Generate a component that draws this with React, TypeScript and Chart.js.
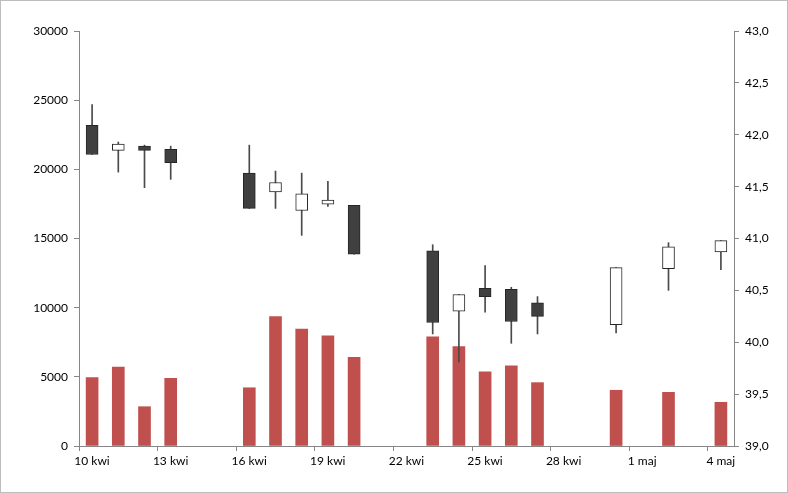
import React, { useEffect, useRef } from "react";
import { Chart, registerables } from "chart.js";

Chart.register(...registerables);

// Trading days (2007)
const dates = [
  "2007-04-10", "2007-04-11", "2007-04-12", "2007-04-13",
  "2007-04-16", "2007-04-17", "2007-04-18", "2007-04-19", "2007-04-20",
  "2007-04-23", "2007-04-24", "2007-04-25", "2007-04-26", "2007-04-27",
  "2007-04-30", "2007-05-02", "2007-05-04",
];
const openPrices = [42.09, 41.85, 41.89, 41.86, 41.63, 41.45, 41.27, 41.33, 41.32, 40.88, 40.30, 40.52, 40.51, 40.38, 40.17, 40.71, 40.87];
const closePrices = [41.81, 41.91, 41.85, 41.73, 41.29, 41.54, 41.43, 41.37, 40.85, 40.19, 40.46, 40.44, 40.20, 40.25, 40.72, 40.92, 40.98];
const highPrices = [42.29, 41.93, 41.90, 41.89, 41.90, 41.65, 41.63, 41.55, 41.32, 40.94, 40.46, 40.74, 40.53, 40.44, 40.72, 40.96, 40.98];
const lowPrices = [41.81, 41.64, 41.49, 41.57, 41.29, 41.29, 41.03, 41.31, 40.85, 40.08, 39.81, 40.29, 39.99, 40.08, 40.09, 40.50, 40.70];
const volumes = [4940, 5710, 2840, 4890, 4210, 9350, 8460, 7970, 6410, 7900, 7180, 5370, 5800, 4580, 4030, 3880, 3160];

// Date axis: 10 kwi .. 5 maj, ticks every 3 days
const axisStart = "2007-04-10";
const axisEnd = "2007-05-05";
const xTickDates = ["2007-04-10", "2007-04-13", "2007-04-16", "2007-04-19", "2007-04-22", "2007-04-25", "2007-04-28", "2007-05-01", "2007-05-04"];
const xTickLabels = ["10 kwi", "13 kwi", "16 kwi", "19 kwi", "22 kwi", "25 kwi", "28 kwi", "1 maj", "4 maj"];

const volumeTicks = { min: 0, max: 30000, step: 5000 };
const priceTicks = { min: 39, max: 43, step: 0.5 };

const DAY = 86400000;
const dayOffset = (d: string) => (Date.parse(d + "T00:00:00Z") - Date.parse(axisStart + "T00:00:00Z")) / DAY;

const FONT = { family: "Lato, 'Open Sans', sans-serif", size: 12 };

export default function App() {
  const ref = useRef<HTMLCanvasElement | null>(null);

  useEffect(() => {
    document.body.style.margin = "0";
    const canvas = ref.current;
    if (!canvas) return;

    const xs = dates.map((d) => dayOffset(d) + 0.5);
    const tickVals = xTickDates.map(dayOffset);
    const rising = dates.map((_, i) => closePrices[i] >= openPrices[i]);

    const framePlugin = {
      id: "frame",
      beforeDraw(chart: any) {
        const c = chart.ctx;
        c.save();
        c.fillStyle = "#ffffff";
        c.fillRect(0, 0, chart.width, chart.height);
        c.restore();
      },
      afterDraw(chart: any) {
        const c = chart.ctx;
        c.save();
        c.strokeStyle = "#bdbdbd";
        c.lineWidth = 1;
        c.strokeRect(0.5, 0.5, chart.width - 1, chart.height - 1);
        c.restore();
      },
    };

    const chart = new Chart(canvas, {
      type: "line",
      data: {
        datasets: [
          {
            type: "bar",
            label: "body",
            data: xs.map((x, i) => ({ x, y: [openPrices[i], closePrices[i]] })) as any,
            yAxisID: "y1",
            backgroundColor: rising.map((r) => (r ? "#ffffff" : "#404040")),
            borderColor: "#262626",
            borderWidth: 1,
            borderSkipped: false,
            barThickness: 12,
            grouped: false,
            order: 0,
          } as any,
          {
            type: "bar",
            label: "wick",
            data: xs.map((x, i) => ({ x, y: [lowPrices[i], highPrices[i]] })) as any,
            yAxisID: "y1",
            backgroundColor: "#4a4a4a",
            borderWidth: 0,
            barThickness: 1,
            grouped: false,
            order: 1,
          } as any,
          {
            type: "bar",
            label: "volume",
            data: xs.map((x, i) => ({ x, y: volumes[i] })) as any,
            yAxisID: "y",
            backgroundColor: "#c0504d",
            borderWidth: 0,
            barThickness: 12,
            grouped: false,
            order: 2,
          } as any,
        ],
      },
      options: {
        responsive: false,
        animation: false,
        devicePixelRatio: 1,
        layout: { autoPadding: false, padding: { top: 31, left: 0, right: 0, bottom: 0 } },
        plugins: { legend: { display: false }, tooltip: { enabled: false } },
        scales: {
          x: {
            type: "linear",
            min: 0,
            max: dayOffset(axisEnd),
            offset: false,
            afterBuildTicks: (scale: any) => {
              scale.ticks = tickVals.map((v) => ({ value: v }));
            },
            afterFit: (scale: any) => {
              scale.height = 47;
            },
            grid: { display: true, offset: false, drawOnChartArea: false, drawTicks: true, tickLength: 5, color: "#868686" },
            border: { display: true, color: "#868686", width: 1 },
            ticks: {
              autoSkip: false,
              maxRotation: 0,
              padding: 3,
              labelOffset: 13,
              color: "#000000",
              font: FONT,
              callback: (v: any) => {
                const idx = tickVals.indexOf(Number(v));
                return idx >= 0 ? xTickLabels[idx] : "";
              },
            },
          },
          y: {
            type: "linear",
            position: "left",
            min: volumeTicks.min,
            max: volumeTicks.max,
            afterFit: (scale: any) => {
              scale.width = 79;
            },
            grid: { display: true, drawOnChartArea: false, drawTicks: true, tickLength: 5, color: "#868686" },
            border: { display: true, color: "#868686", width: 1 },
            ticks: {
              stepSize: volumeTicks.step,
              padding: 6,
              color: "#000000",
              font: FONT,
              callback: (v: any) => String(Math.round(Number(v))),
            },
          },
          y1: {
            type: "linear",
            position: "right",
            min: priceTicks.min,
            max: priceTicks.max,
            afterFit: (scale: any) => {
              scale.width = 54;
            },
            grid: { display: true, drawOnChartArea: false, drawTicks: true, tickLength: 5, color: "#868686" },
            border: { display: true, color: "#868686", width: 1 },
            ticks: {
              stepSize: priceTicks.step,
              padding: 6,
              color: "#000000",
              font: FONT,
              callback: (v: any) => Number(v).toFixed(1).replace(".", ","),
            },
          },
        },
      } as any,
      plugins: [framePlugin],
    });

    return () => chart.destroy();
  }, []);

  return (
    <div style={{ width: 788, height: 493, position: "relative" }}>
      <canvas ref={ref} width={788} height={493} style={{ display: "block" }} />
    </div>
  );
}
